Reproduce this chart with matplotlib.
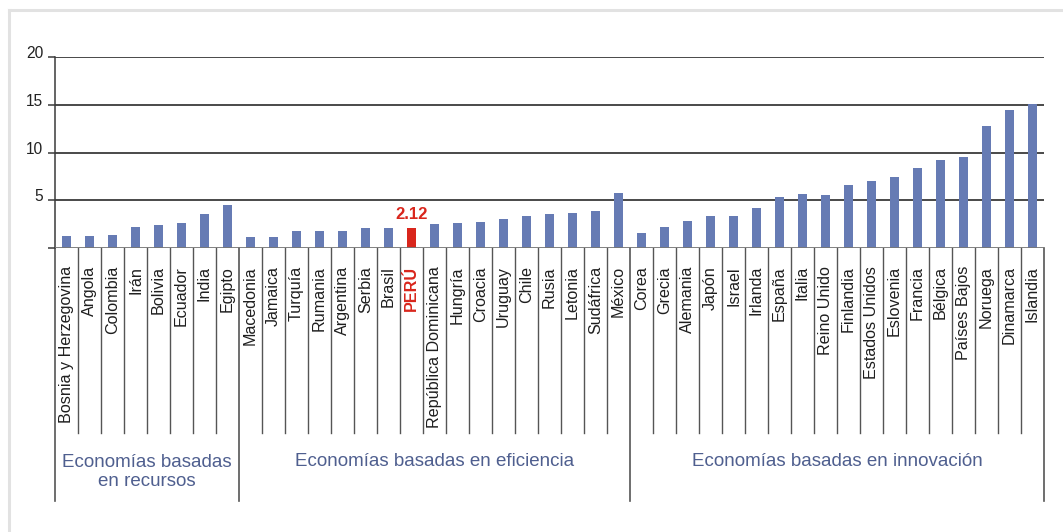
import matplotlib
matplotlib.use("Agg")
import matplotlib.pyplot as plt
import matplotlib.transforms as mtransforms
from matplotlib.lines import Line2D
import numpy as np

plt.rcParams["font.family"] = ["Liberation Sans", "DejaVu Sans"]

# Datos
paises_recursos = ["Bosnia y Herzegovina", "Angola", "Colombia", "Irán", "Bolivia",
                   "Ecuador", "India", "Egipto"]
valores_recursos = [1.29, 1.29, 1.40, 2.23, 2.44, 2.65, 3.60, 4.54]

paises_eficiencia = ["Macedonia", "Jamaica", "Turquía", "Rumania", "Argentina", "Serbia",
                     "Brasil", "PERÚ", "República Dominicana", "Hungría", "Croacia",
                     "Uruguay", "Chile", "Rusia", "Letonia", "Sudáfrica", "México"]
valores_eficiencia = [1.19, 1.19, 1.82, 1.82, 1.82, 2.05, 2.05, 2.12, 2.55, 2.65, 2.76,
                      3.07, 3.39, 3.60, 3.70, 3.91, 5.79]

paises_innovacion = ["Corea", "Grecia", "Alemania", "Japón", "Israel", "Irlanda", "España",
                     "Italia", "Reino Unido", "Finlandia", "Estados Unidos", "Eslovenia",
                     "Francia", "Bélgica", "Países Bajos", "Noruega", "Dinamarca", "Islandia"]
valores_innovacion = [1.61, 2.23, 2.86, 3.39, 3.39, 4.22, 5.38, 5.69, 5.58, 6.63, 7.05,
                      7.47, 8.41, 9.25, 9.56, 12.81, 14.49, 15.11]

grupos = ["Economías basadas\nen recursos", "Economías basadas en eficiencia",
          "Economías basadas en innovación"]
yticks = [5, 10, 15, 20]
destacado = "PERÚ"
etiqueta_destacado = "2.12"

paises = paises_recursos + paises_eficiencia + paises_innovacion
valores = valores_recursos + valores_eficiencia + valores_innovacion
tamanos = [len(paises_recursos), len(paises_eficiencia), len(paises_innovacion)]

AZUL = "#667bb4"
ROJO = "#d9261c"
TEXTO_GRUPO = "#4f5f8f"
LINEA = "#3a3a3a"

W, H = 1063, 532
fig = plt.figure(figsize=(W / 100, H / 100), dpi=100)
ax = fig.add_axes([55 / W, 1 - 248 / H, (1044 - 55) / W, (248 - 57) / H])

x = np.arange(len(paises))
colores = [ROJO if p == destacado else AZUL for p in paises]
ax.bar(x, valores, width=0.39, color=colores, zorder=3)

ax.set_xlim(-0.5, len(paises) - 0.5)
ax.set_ylim(0, 20)

for v in yticks:
    ax.axhline(v, color=LINEA, lw=1.3, zorder=1)
ax.axhline(0, color="#777777", lw=1.3, zorder=4)

for s in ["top", "right", "bottom"]:
    ax.spines[s].set_visible(False)
ax.spines["left"].set_color(LINEA)
ax.spines["left"].set_linewidth(1.1)

ax.set_xticks([])
ax.set_yticks([0] + yticks)
ax.set_yticklabels([""] + [str(v) for v in yticks], fontsize=11.2, color="#222222")
ax.tick_params(axis="y", length=5, width=1.1, color=LINEA, pad=3.5)
offset = mtransforms.ScaledTranslation(0, 5 / 100, fig.dpi_scale_trans)
for lab in ax.get_yticklabels():
    lab.set_transform(lab.get_transform() + offset)

trans = ax.get_xaxis_transform()
alto = 191.0

# separadores de categorías y de grupos
limites = np.cumsum([0] + tamanos) - 0.5
for k in range(1, len(paises)):
    if k - 0.5 in limites:
        continue
    ax.plot([k - 0.5, k - 0.5], [0, -(433 - 248) / alto], transform=trans,
            color="#555555", lw=1.0, clip_on=False)
for b in limites:
    ax.plot([b, b], [0, -(501 - 248) / alto], transform=trans,
            color="#555555", lw=1.2, clip_on=False)

# etiquetas de países
for i, p in enumerate(paises):
    es_dest = p == destacado
    ax.text(i, -(266 - 248) / alto, p, transform=trans, rotation=90,
            ha="center", va="top", fontsize=11.6,
            color=ROJO if es_dest else "#1e1e1e",
            fontweight="bold" if es_dest else "normal")

# valor destacado
idx = paises.index(destacado)
ax.annotate(etiqueta_destacado, (idx, valores[idx]), xytext=(0, 4),
            textcoords="offset points", ha="center", va="bottom",
            fontsize=12, fontweight="bold", color=ROJO, zorder=5)

# etiquetas de grupos
for g, nombre in enumerate(grupos):
    centro = (limites[g] + limites[g + 1]) / 2
    ycen = 472 if "\n" in nombre else 462
    ax.text(centro, -(ycen - 248) / alto, nombre, transform=trans,
            ha="center", va="center", fontsize=13.5, color=TEXTO_GRUPO,
            linespacing=1.08)

# marco gris claro
fig.add_artist(Line2D([8.5 / W, 8.5 / W], [0, 1 - 10 / H], color="#e2e2e2", lw=2.2))
fig.add_artist(Line2D([8.5 / W, 1], [1 - 10 / H, 1 - 10 / H], color="#e2e2e2", lw=2.2))

fig.savefig("out.png", dpi=100)
